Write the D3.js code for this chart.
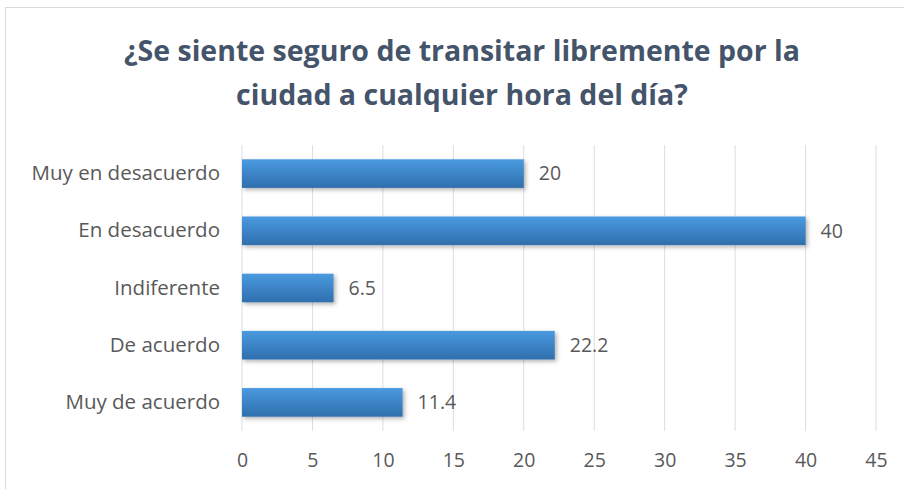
<!DOCTYPE html>
<html>
<head>
<meta charset="utf-8">
<script src="https://cdn.jsdelivr.net/npm/d3@7"></script>
<style>
	body { margin: 0; background: #fff; }
	text { font-family: "Open Sans", "Liberation Sans", sans-serif; }
</style>
</head>
<body>
<svg id="chart" width="904" height="489"></svg>
<script>
const categories = ["Muy en desacuerdo", "En desacuerdo", "Indiferente", "De acuerdo", "Muy de acuerdo"];
const values = [20, 40, 6.5, 22.2, 11.4];
const tickValues = [0, 5, 10, 15, 20, 25, 30, 35, 40, 45];
const titleLines = ["¿Se siente seguro de transitar libremente por la", "ciudad a cualquier hora del día?"];

const svg = d3.select("#chart");
const width = 904, height = 489;

// chart frame
svg.append("rect")
	.attr("x", 5.5).attr("y", 7.5)
	.attr("width", width + 20).attr("height", height + 20)
	.attr("fill", "#fff")
	.attr("stroke", "#d9d9d9");

const defs = svg.append("defs");

const grad = defs.append("linearGradient")
	.attr("id", "barGrad")
	.attr("x1", 0).attr("y1", 0).attr("x2", 0).attr("y2", 1);
grad.append("stop").attr("offset", "0%").attr("stop-color", "#4a9ae0");
grad.append("stop").attr("offset", "100%").attr("stop-color", "#2f6fad");

const shadow = defs.append("filter")
	.attr("id", "barShadow")
	.attr("x", "-10%").attr("y", "-30%")
	.attr("width", "130%").attr("height", "180%");
shadow.append("feDropShadow")
	.attr("dx", 2).attr("dy", 2)
	.attr("stdDeviation", 2)
	.attr("flood-color", "#000")
	.attr("flood-opacity", 0.3);

const margin = { left: 242, right: 28, top: 145, bottom: 58 };

const x = d3.scaleLinear()
	.domain([0, 45])
	.range([margin.left, width - margin.right]);

const y = d3.scaleBand()
	.domain(categories)
	.range([margin.top, height - margin.bottom])
	.paddingInner(0.5)
	.paddingOuter(0.25);

// title
svg.append("g")
	.selectAll("text")
	.data(titleLines)
	.join("text")
	.attr("x", 462)
	.attr("y", (d, i) => 61 + i * 44)
	.attr("text-anchor", "middle")
	.attr("font-size", 28.5)
	.attr("font-weight", "bold")
	.attr("fill", "#44546a")
	.text(d => d);

// gridlines
svg.append("g")
	.selectAll("line")
	.data(tickValues)
	.join("line")
	.attr("x1", d => x(d)).attr("x2", d => x(d))
	.attr("y1", margin.top).attr("y2", height - margin.bottom)
	.attr("stroke", "#d9dde6")
	.attr("stroke-width", 1);

// x axis labels
const xAxis = svg.append("g")
	.attr("transform", `translate(0,${height - margin.bottom})`)
	.call(d3.axisBottom(x).tickValues(tickValues).tickSize(0).tickPadding(22));
xAxis.select(".domain").remove();
xAxis.selectAll("text")
	.attr("font-size", 19.5)
	.attr("font-family", "\"Open Sans\", sans-serif")
	.attr("fill", "#595959");

// y axis labels
const yAxis = svg.append("g")
	.attr("transform", `translate(${margin.left},0)`)
	.call(d3.axisLeft(y).tickSize(0).tickPadding(22));
yAxis.select(".domain").remove();
yAxis.selectAll("text")
	.attr("font-size", 20.5)
	.attr("font-family", "\"Open Sans\", sans-serif")
	.attr("fill", "#595959");

const rows = categories.map((c, i) => ({ category: c, value: values[i] }));

// bars
svg.append("g")
	.selectAll("rect")
	.data(rows)
	.join("rect")
	.attr("x", x(0))
	.attr("y", d => y(d.category))
	.attr("width", d => x(d.value) - x(0))
	.attr("height", y.bandwidth())
	.attr("fill", "url(#barGrad)")
	.attr("filter", "url(#barShadow)");

// value labels
svg.append("g")
	.selectAll("text")
	.data(rows)
	.join("text")
	.attr("x", d => x(d.value) + 15)
	.attr("y", d => y(d.category) + y.bandwidth() / 2)
	.attr("dy", "0.35em")
	.attr("font-size", 19.5)
	.attr("fill", "#595959")
	.text(d => d.value);
</script>
</body>
</html>
